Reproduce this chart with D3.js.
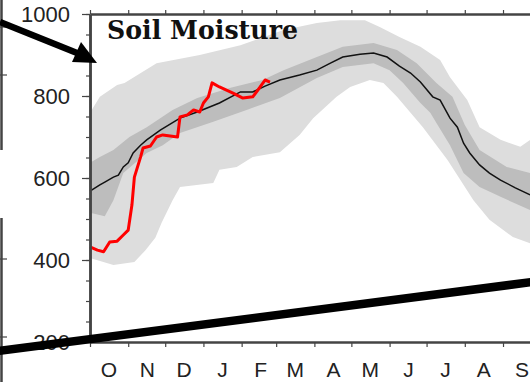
<!DOCTYPE html>
<html>
<head>
<meta charset="utf-8">
<script src="https://cdn.jsdelivr.net/npm/d3@7"></script>
<style>
  html, body { margin: 0; padding: 0; background: #fff; }
  svg { display: block; }
</style>
</head>
<body>
<div id="chart"></div>
<script>
// Soil moisture: water year climatology bands, median and current year
// values are [day of water year (0 = 1 Oct), mm]
const monthLabels = ['O', 'N', 'D', 'J', 'F', 'M', 'A', 'M', 'J', 'J', 'A', 'S'];
const yTicks = [200, 400, 600, 800, 1000];

const outerUpper = [[0, 759], [8, 798], [22, 827], [28, 832], [54, 880], [89, 900], [122, 924], [157, 961],
  [184, 978], [203, 985], [223, 985], [235, 968], [251, 944], [268, 920], [284, 888], [292, 846],
  [306, 790], [316, 724], [333, 693], [349, 676], [357, 693]];
const outerLower = [[0, 405], [19, 388], [36, 395], [45, 424], [53, 454], [58, 490], [67, 546], [73, 578],
  [100, 588], [105, 620], [119, 627], [132, 651], [154, 663], [170, 705], [181, 746], [200, 798],
  [211, 822], [227, 839], [238, 832], [249, 798], [260, 759], [270, 724], [290, 644], [311, 546],
  [324, 498], [343, 456], [357, 441]];
const innerUpper = [[0, 637], [8, 651], [19, 668], [32, 700], [46, 724], [67, 766], [87, 795], [114, 820],
  [140, 839], [157, 863], [184, 895], [205, 920], [230, 929], [249, 912], [265, 880], [281, 832],
  [294, 798], [304, 729], [316, 668], [338, 627], [357, 612]];
const innerLower = [[0, 515], [12, 507], [19, 546], [27, 612], [46, 661], [59, 680], [73, 710], [100, 737],
  [127, 766], [154, 795], [184, 844], [205, 871], [230, 880], [243, 863], [254, 832], [268, 783],
  [276, 759], [281, 734], [292, 680], [303, 612], [316, 578], [333, 554], [357, 522]];
const median = [[0, 568], [8, 583], [12, 590], [19, 602], [23, 607], [27, 627], [31, 637], [35, 661],
  [41, 680], [46, 693], [57, 717], [73, 746], [87, 761], [105, 783], [122, 810], [132, 810], [142, 824],
  [154, 839], [170, 851], [184, 863], [195, 880], [205, 895], [219, 902], [230, 905], [241, 895],
  [251, 873], [260, 856], [268, 834], [278, 798], [284, 790], [292, 746], [298, 724], [303, 685],
  [308, 661], [316, 632], [324, 612], [333, 595], [345, 576], [357, 559]];
const currentYear = [[0, 432], [6, 424], [11, 420], [16, 444], [22, 446], [27, 461], [31, 473], [34, 534],
  [36, 602], [41, 651], [43, 673], [49, 678], [54, 700], [59, 705], [71, 700], [73, 749], [79, 754],
  [84, 766], [89, 761], [92, 783], [96, 798], [99, 832], [105, 822], [116, 807], [124, 795], [132, 798],
  [138, 822], [142, 839], [146, 834]];

const W = 530, H = 382;
const start = new Date(2000, 9, 1), end = new Date(2001, 9, 1);
const x = d3.scaleTime().domain([start, end]).range([90, 540]);
const y = d3.scaleLinear().domain([200, 1000]).range([342, 14]);
const day = d => d3.timeDay.offset(start, d);

const svg = d3.select('#chart').append('svg').attr('width', W).attr('height', H);

const line = d3.line().x(d => x(day(d[0]))).y(d => y(d[1]));
const band = (up, lo) => line(up.concat(lo.slice().reverse())) + 'Z';

svg.append('path').attr('d', band(outerUpper, outerLower)).attr('fill', '#dddddd');
svg.append('path').attr('d', band(innerUpper, innerLower)).attr('fill', '#bdbdbd');
svg.append('path').attr('d', line(median)).attr('fill', 'none').attr('stroke', '#111').attr('stroke-width', 1.5);
svg.append('path').attr('d', line(currentYear)).attr('fill', 'none').attr('stroke', '#ff0000')
  .attr('stroke-width', 3).attr('stroke-linejoin', 'round');

// axes
const axisStyle = g => {
  g.select('.domain').attr('stroke', '#444').attr('stroke-width', 2.5);
  g.selectAll('.tick line').attr('stroke', '#444').attr('stroke-width', 1.2);
  g.selectAll('text').attr('font-family', 'Liberation Sans, Arial, sans-serif').attr('fill', '#222');
};
svg.append('g').attr('transform', 'translate(90,0)')
  .call(d3.axisLeft(y).tickValues(d3.range(200, 1001, 50)).tickSize(4).tickSizeOuter(0).tickFormat(''))
  .call(axisStyle);
svg.append('g').attr('transform', 'translate(90,0)')
  .call(d3.axisLeft(y).tickValues(yTicks).tickSize(8).tickSizeOuter(0).tickPadding(12).tickFormat(d3.format('d')))
  .call(axisStyle)
  .call(g => g.selectAll('text').attr('font-size', 22));
svg.append('g').attr('transform', 'translate(0,342)')
  .call(d3.axisBottom(x).ticks(d3.timeMonth).tickSize(5).tickSizeOuter(0).tickFormat(''))
  .call(axisStyle);
svg.append('g').attr('transform', 'translate(0,14)')
  .call(d3.axisTop(x).ticks(d3.timeMonth).tickSize(4).tickSizeOuter(0).tickFormat(''))
  .call(axisStyle);
const mids = d3.range(12).map(i => d3.timeDay.offset(d3.timeMonth.offset(start, i), 15));
svg.append('g').attr('transform', 'translate(0,342)')
  .call(d3.axisBottom(x).tickValues(mids).tickSize(0).tickPadding(20).tickFormat((d, i) => monthLabels[i]))
  .call(axisStyle)
  .call(g => g.select('.domain').remove())
  .call(g => g.selectAll('text').attr('font-size', 21));

svg.append('text').attr('x', 107).attr('y', 39)
  .attr('font-family', 'DejaVu Serif, serif').attr('font-weight', 'bold').attr('font-size', 26)
  .attr('textLength', 191).attr('lengthAdjust', 'spacingAndGlyphs').attr('fill', '#111')
  .text('Soil Moisture');

// bits of the surrounding figure: neighbour panel edge, arrow, crossing line
const edge = svg.append('g').attr('stroke', '#444').attr('stroke-width', 2.5);
edge.append('line').attr('x1', 1.5).attr('x2', 1.5).attr('y1', 0).attr('y2', 150);
edge.append('line').attr('x1', 1.5).attr('x2', 1.5).attr('y1', 218).attr('y2', H);
[27, 75, 259, 337].forEach(t => edge.append('line').attr('x1', 0).attr('x2', 7).attr('y1', t).attr('y2', t).attr('stroke-width', 1.2));

svg.append('line').attr('x1', 0).attr('y1', 22).attr('x2', 82).attr('y2', 55)
  .attr('stroke', '#000').attr('stroke-width', 6.5);
svg.append('path').attr('d', 'M97,63 L72,62 L81,42 Z').attr('fill', '#000');
svg.append('line').attr('x1', -2).attr('y1', 351).attr('x2', 532).attr('y2', 282)
  .attr('stroke', '#000').attr('stroke-width', 8.5);
</script>
</body>
</html>
